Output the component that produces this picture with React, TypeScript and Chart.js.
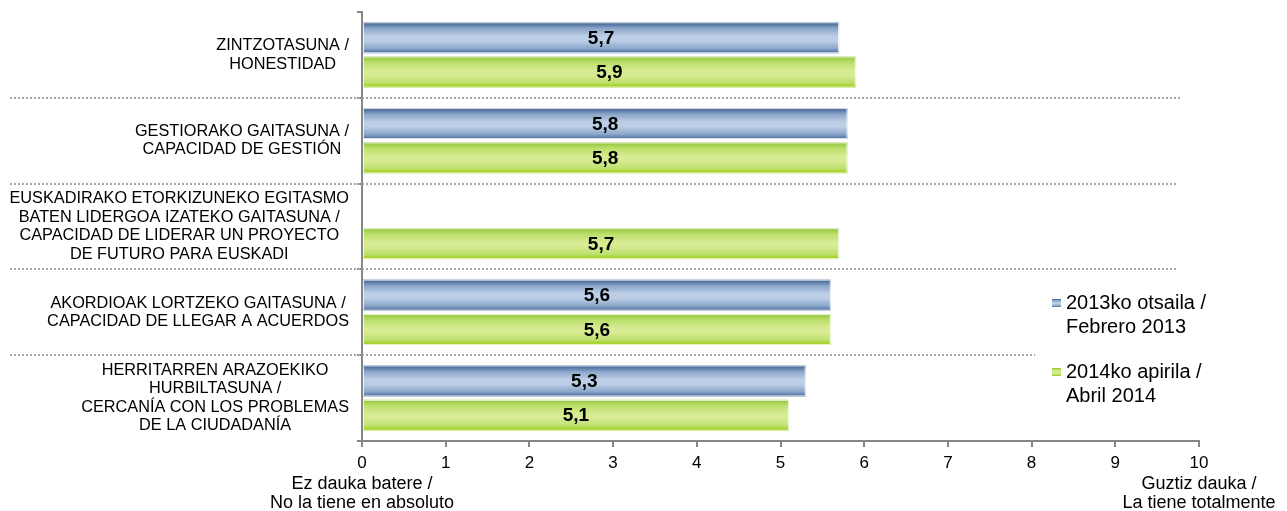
import React, { useEffect, useRef } from "react";
import { Chart, registerables } from "chart.js";

Chart.register(...registerables);

const categories: string[][] = [
  ["ZINTZOTASUNA /", "HONESTIDAD"],
  ["GESTIORAKO GAITASUNA /", "CAPACIDAD DE GESTIÓN"],
  [
    "EUSKADIRAKO ETORKIZUNEKO EGITASMO",
    "BATEN LIDERGOA IZATEKO GAITASUNA /",
    "CAPACIDAD DE LIDERAR UN PROYECTO",
    "DE FUTURO PARA EUSKADI",
  ],
  ["AKORDIOAK LORTZEKO GAITASUNA /", "CAPACIDAD DE LLEGAR A ACUERDOS"],
  ["HERRITARREN ARAZOEKIKO", "HURBILTASUNA /", "CERCANÍA CON LOS PROBLEMAS", "DE LA CIUDADANÍA"],
];

const values2013: (number | null)[] = [5.7, 5.8, null, 5.6, 5.3];
const values2014: (number | null)[] = [5.9, 5.8, 5.7, 5.6, 5.1];

const seriesNames: string[][] = [
  ["2013ko otsaila /", "Febrero 2013"],
  ["2014ko apirila /", "Abril 2014"],
];

const xMin = 0;
const xMax = 10;
const axisEndLabels: string[][] = [
  ["Ez dauka batere /", "No la tiene en absoluto"],
  ["Guztiz dauka /", "La tiene totalmente"],
];

const FONT = "'Liberation Sans', Arial, sans-serif";
const AXIS_GRAY = "#868686";

const palettes = [
  { dark: "#3a5c8d", mid: "#8ba6ca", light: "#bccfe6", darkB: "#44679a" },
  { dark: "#8fc43a", mid: "#bde06c", light: "#d6eb92", darkB: "#96ca00" },
];

function makeGrad(ctx: CanvasRenderingContext2D, top: number, bottom: number, p: any) {
  const g = ctx.createLinearGradient(0, top, 0, bottom);
  g.addColorStop(0, p.dark);
  g.addColorStop(0.2, p.mid);
  g.addColorStop(0.45, p.light);
  g.addColorStop(0.6, p.light);
  g.addColorStop(0.85, p.mid);
  g.addColorStop(1, p.darkB);
  return g;
}

const decorPlugin = {
  id: "decor",
  afterDatasetsDraw(chart: any) {
    const ctx: CanvasRenderingContext2D = chart.ctx;
    chart.data.datasets.forEach((ds: any, di: number) => {
      const meta = chart.getDatasetMeta(di);
      meta.data.forEach((el: any, i: number) => {
        const v = ds.data[i];
        if (v == null) return;
        const { x, y, base, height } = el.getProps(["x", "y", "base", "height"], true);
        const top = y - height / 2;
        const left = Math.min(base, x);
        const w = Math.abs(x - base);
        ctx.save();
        ctx.fillStyle = makeGrad(ctx, top, top + height, palettes[di]);
        ctx.fillRect(left, top, w, height);
        ctx.strokeStyle = "rgba(255,255,255,0.8)";
        ctx.lineWidth = 1;
        ctx.strokeRect(left + 0.5, top + 0.5, w - 1, height - 1);
        ctx.restore();
        ctx.save();
        ctx.font = `bold 19px ${FONT}`;
        ctx.fillStyle = "#000";
        ctx.textAlign = "center";
        ctx.textBaseline = "middle";
        ctx.fillText(String(v).replace(".", ","), (base + x) / 2, y + 1);
        ctx.restore();
      });
    });
  },
  afterDraw(chart: any) {
    const ctx: CanvasRenderingContext2D = chart.ctx;
    const yScale = chart.scales.y;
    const xScale = chart.scales.x;
    const n = categories.length;

    const ends = [1180, 1176, 1176, 1035];
    ctx.save();
    ctx.strokeStyle = "#a6a6a6";
    ctx.lineWidth = 2;
    ctx.setLineDash([2, 2]);
    for (let i = 0; i < n - 1; i++) {
      const yy = Math.round((yScale.getPixelForValue(i) + yScale.getPixelForValue(i + 1)) / 2);
      ctx.beginPath();
      ctx.moveTo(10, yy);
      ctx.lineTo(ends[i], yy);
      ctx.stroke();
    }
    ctx.restore();

    ctx.save();
    ctx.font = `16.3px ${FONT}`;
    ctx.fillStyle = "#000";
    ctx.textAlign = "center";
    ctx.textBaseline = "middle";
    const lh = 18.5;
    categories.forEach((lines, i) => {
      const cy = yScale.getPixelForValue(i);
      const maxW = Math.max(...lines.map((l) => ctx.measureText(l).width));
      const cx = 349 - maxW / 2;
      lines.forEach((l, j) => {
        ctx.fillText(l, cx, cy + (j - (lines.length - 1) / 2) * lh);
      });
    });
    ctx.restore();

    ctx.save();
    ctx.font = `18px ${FONT}`;
    ctx.fillStyle = "#000";
    ctx.textAlign = "center";
    ctx.textBaseline = "middle";
    [xMin, xMax].forEach((v, k) => {
      const px = xScale.getPixelForValue(v);
      axisEndLabels[k].forEach((l, j) => {
        ctx.fillText(l, px, 484 + j * 19.5);
      });
    });
    ctx.restore();

    ctx.save();
    ctx.font = `20px ${FONT}`;
    ctx.textAlign = "left";
    ctx.textBaseline = "middle";
    const legendTops = [303, 372];
    seriesNames.forEach((lines, k) => {
      const ly = legendTops[k];
      ctx.fillStyle = makeGrad(ctx, ly - 4, ly + 4, palettes[k]);
      ctx.fillRect(1052, ly - 4, 9, 8);
      ctx.fillStyle = "#000";
      lines.forEach((l, j) => ctx.fillText(l, 1066, ly + j * 24));
    });
    ctx.restore();
  },
};

export default function App() {
  const ref = useRef<HTMLCanvasElement | null>(null);
  useEffect(() => {
    if (!ref.current) return;
    const chart = new Chart(ref.current, {
      type: "bar",
      data: {
        labels: categories.map((c) => c.join(" ")),
        datasets: [
          {
            label: seriesNames[0].join(" "),
            data: values2013,
            backgroundColor: "#bccfe6",
            categoryPercentage: 0.8,
            barPercentage: 0.9,
          },
          {
            label: seriesNames[1].join(" "),
            data: values2014,
            backgroundColor: "#d6eb92",
            categoryPercentage: 0.8,
            barPercentage: 0.9,
          },
        ],
      },
      options: {
        indexAxis: "y",
        responsive: false,
        animation: false,
        layout: { padding: { top: 12, right: 88, left: 0, bottom: 0 } },
        plugins: { legend: { display: false }, tooltip: { enabled: false } },
        scales: {
          x: {
            type: "linear",
            min: xMin,
            max: xMax,
            ticks: {
              stepSize: 1,
              color: "#000",
              font: { family: FONT, size: 17 },
              padding: 6,
            },
            grid: {
              drawOnChartArea: false,
              drawTicks: true,
              tickLength: 6,
              color: AXIS_GRAY,
              lineWidth: 2,
            },
            border: { display: true, color: AXIS_GRAY, width: 2 },
            afterFit: (s: any) => {
              s.height = 70;
            },
          },
          y: {
            type: "category",
            ticks: { display: false },
            grid: {
              drawOnChartArea: false,
              drawTicks: true,
              tickLength: 5,
              color: AXIS_GRAY,
              lineWidth: 2,
              offset: true,
            },
            border: { display: true, color: AXIS_GRAY, width: 2 },
            afterFit: (s: any) => {
              s.width = 362;
            },
          },
        },
      },
      plugins: [decorPlugin],
    });
    return () => chart.destroy();
  }, []);
  return (
    <div style={{ position: "absolute", left: 0, top: 0, width: 1287, height: 511, background: "#fff" }}>
      <canvas ref={ref} width={1287} height={511} style={{ display: "block" }} />
    </div>
  );
}
